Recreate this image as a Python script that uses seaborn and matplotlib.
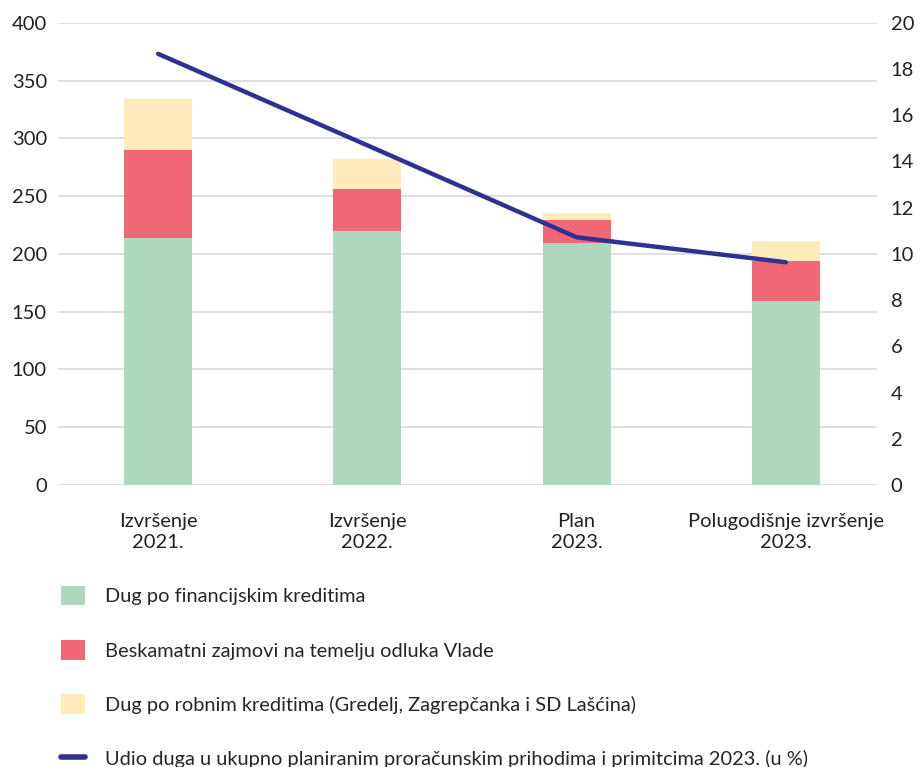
import numpy as np
import pandas as pd
import matplotlib
matplotlib.use("Agg")
import matplotlib.pyplot as plt
import seaborn as sns
from matplotlib.patches import Patch
from matplotlib.lines import Line2D

categories = ["Izvršenje\n2021.", "Izvršenje\n2022.", "Plan\n2023.", "Polugodišnje izvršenje\n2023."]
financijski = [214, 220, 209.5, 159]
beskamatni = [76, 36, 20, 35]
robni = [44, 26, 6, 17]
udio = [18.66, 14.7, 10.72, 9.64]

labels = [
    "Dug po financijskim kreditima",
    "Beskamatni zajmovi na temelju odluka Vlade",
    "Dug po robnim kreditima (Gredelj, Zagrepčanka i SD Lašćina)",
    "Udio duga u ukupno planiranim proračunskim prihodima i primitcima 2023. (u %)",
]
colors = ["#aed9bf", "#f16775", "#feebbc"]
line_color = "#2e3192"

sns.set_style("white")
plt.rcParams["font.family"] = ["Lato", "DejaVu Sans"]

fig = plt.figure(figsize=(9.22, 7.67), dpi=100)
ax = fig.add_axes([0.063, 0.3677, 0.888, 0.6025])

df = pd.DataFrame({"cat": categories, "fin": financijski, "besk": beskamatni, "rob": robni})
bottom2 = df["fin"].values
bottom3 = bottom2 + df["besk"].values

bar_kw = dict(width=0.325, saturation=1, linewidth=0, ax=ax)
sns.barplot(data=df, x="cat", y="fin", color=colors[0], **bar_kw)
sns.barplot(data=df, x="cat", y="besk", color=colors[1], bottom=bottom2, **bar_kw)
sns.barplot(data=df, x="cat", y="rob", color=colors[2], bottom=bottom3, **bar_kw)

ax.set_ylim(0, 400)
ax.set_yticks(np.arange(0, 401, 50))
ax.set_xlim(-0.478, 3.435)
ax.yaxis.grid(True, color="#d9d9d9", linewidth=1.2)
ax.set_axisbelow(True)
ax.set_xlabel("")
ax.set_ylabel("")
for s in ax.spines.values():
    s.set_visible(False)
ax.tick_params(axis="y", length=0, labelsize=14.5, pad=8, colors="#222222")
ax.tick_params(axis="x", length=0, labelsize=14.5, pad=20, colors="#222222")
ax.set_xticks(range(len(categories)))
ax.set_xticklabels(categories, linespacing=1.3)

ax2 = ax.twinx()
sns.lineplot(x=np.arange(len(udio)), y=udio, color=line_color, linewidth=3.2, ax=ax2)
ax2.set_ylim(0, 20)
ax2.set_yticks(np.arange(0, 21, 2))
ax2.set_xlim(-0.478, 3.435)
for s in ax2.spines.values():
    s.set_visible(False)
ax2.tick_params(axis="y", length=0, labelsize=14.5, pad=10, colors="#222222")
ax2.grid(False)

handles = [Patch(facecolor=c, edgecolor="none") for c in colors]
handles.append(Line2D([0], [0], color=line_color, linewidth=4))
fig.legend(handles, labels, loc="upper left", bbox_to_anchor=(0.057, 0.247),
           frameon=False, fontsize=14.4, labelspacing=1.72, handlelength=1.2,
           handleheight=1.15, handletextpad=1.0, borderaxespad=0)

fig.savefig("out.png", dpi=100)
